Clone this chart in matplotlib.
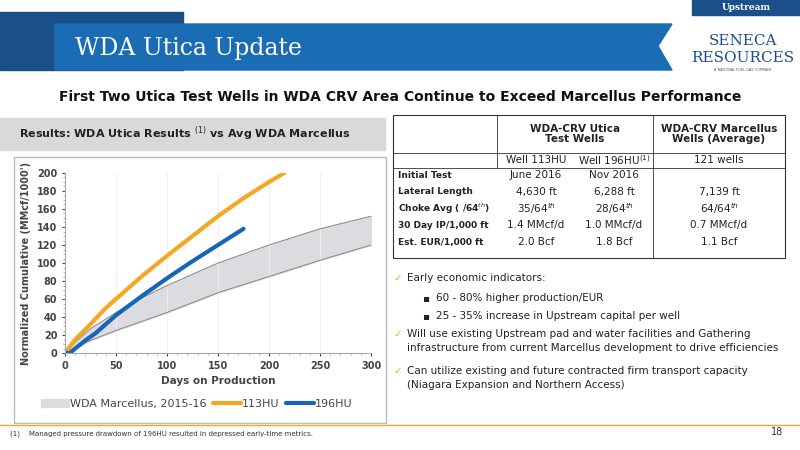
import matplotlib.pyplot as plt
from matplotlib.patches import Rectangle, Polygon
import numpy as np

# chart data
band_days = [0, 10, 25, 50, 75, 100, 150, 200, 250, 300]
band_upper = [0, 12, 27, 45, 61, 75, 100, 120, 138, 152]
band_lower = [0, 6, 14, 25, 35, 45, 67, 85, 103, 120]
hu113_days = [0, 10, 25, 40, 50, 75, 100, 125, 150, 175, 200, 215]
hu113_vals = [0, 15, 32, 50, 60, 85, 108, 130, 152, 172, 190, 200]
hu196_days = [0, 5, 10, 20, 30, 40, 50, 75, 100, 125, 150, 175]
hu196_vals = [0, 0, 5, 14, 22, 32, 42, 63, 83, 102, 120, 138]

# table contents
col_heads = ["WDA-CRV Utica\nTest Wells", "WDA-CRV Marcellus\nWells (Average)"]
sub_heads = ["Well 113HU", "Well 196HU$^{(1)}$", "121 wells"]
row_labels = ["Initial Test", "Lateral Length", "Choke Avg ( /64$^{th}$)",
              "30 Day IP/1,000 ft", "Est. EUR/1,000 ft"]
col_113 = ["June 2016", "4,630 ft", "35/64$^{th}$", "1.4 MMcf/d", "2.0 Bcf"]
col_196 = ["Nov 2016", "6,288 ft", "28/64$^{th}$", "1.0 MMcf/d", "1.8 Bcf"]
col_marc = ["", "7,139 ft", "64/64$^{th}$", "0.7 MMcf/d", "1.1 Bcf"]

W, H = 800, 450
fig = plt.figure(figsize=(8, 4.5), dpi=100)

def fx(x):
    return x / W

def fy(y):
    return 1 - y / H

def ptext(x, y, s, **kw):
    fig.text(fx(x), fy(y), s, **kw)

def prect(x0, y0, x1, y1, **kw):
    fig.patches.append(Rectangle((fx(x0), fy(y1)), fx(x1) - fx(x0), (y1 - y0) / H,
                                 transform=fig.transFigure, zorder=-1, **kw))

def pline(x0, y0, x1, y1, **kw):
    fig.lines.append(plt.Line2D([fx(x0), fx(x1)], [fy(y0), fy(y1)],
                                transform=fig.transFigure, **kw))

# header banner
fig.patches.append(Polygon([(fx(0), fy(12)), (fx(183), fy(12)), (fx(183), fy(70)), (fx(0), fy(70))],
                           closed=True, transform=fig.transFigure, color='#1b4f8a'))
fig.patches.append(Polygon([(fx(55), fy(24)), (fx(672), fy(24)), (fx(658), fy(46)), (fx(672), fy(70)), (fx(55), fy(70))],
                           closed=True, transform=fig.transFigure, color='#1a6db5'))
ptext(75, 48, "WDA Utica Update", color='white', fontsize=17, family='DejaVu Serif', va='center')
prect(692, 0, 800, 15, color='#1b4f8a')
ptext(746, 8, "Upstream", color='white', fontsize=6.5, weight='bold', ha='center', va='center', family='DejaVu Serif')
ptext(743, 41, "SENECA", color='#1b4f8a', fontsize=11, ha='center', va='center', family='DejaVu Serif')
ptext(743, 58, "RESOURCES", color='#1b4f8a', fontsize=11, ha='center', va='center', family='DejaVu Serif')
ptext(743, 70, "A NATIONAL FUEL GAS COMPANY", color='#555555', fontsize=2.5, ha='center', va='center')

ptext(400, 97, "First Two Utica Test Wells in WDA CRV Area Continue to Exceed Marcellus Performance",
      fontsize=10, weight='bold', ha='center', va='center', color='#111111')

# chart title box
prect(0, 118, 385, 150, color='#d9d9d9')
ptext(185, 134, "Results: WDA Utica Results $^{(1)}$ vs Avg WDA Marcellus", fontsize=8, weight='bold',
      ha='center', va='center', color='#222222')
prect(14, 157, 386, 423, facecolor='white', edgecolor='#bbbbbb', lw=1)

ax = fig.add_axes([fx(65), fy(353), (371 - 65) / W, (353 - 173) / H])
ax.set_zorder(5)
ax.patch.set_alpha(0)
ax.fill_between(band_days, band_lower, band_upper, color='#dcdce0', label='WDA Marcellus, 2015-16')
ax.plot(band_days, band_upper, color='#888888', lw=0.7)
ax.plot(band_days, band_lower, color='#888888', lw=0.7)
ax.plot(hu113_days, hu113_vals, color='#f5a623', lw=3, label='113HU', solid_capstyle='round')
ax.plot(hu196_days, hu196_vals, color='#1565b8', lw=3, label='196HU', solid_capstyle='round')
ax.set_xlim(0, 300)
ax.set_ylim(0, 200)
ax.set_xticks(np.arange(0, 301, 50))
ax.set_yticks(np.arange(0, 201, 20))
ax.set_xticks(np.arange(0, 301, 10), minor=True)
ax.set_yticks(np.arange(0, 201, 5), minor=True)
ax.grid(axis='x', which='major', color='#eeeeee', lw=0.6)
ax.tick_params(labelsize=7, colors='#444444', length=2)
ax.tick_params(which='minor', length=1.5, colors='#aaaaaa')
for lab in ax.get_xticklabels() + ax.get_yticklabels():
    lab.set_weight('bold')
for s in ['top', 'right']:
    ax.spines[s].set_visible(False)
for s in ['left', 'bottom']:
    ax.spines[s].set_color('#aaaaaa')
ax.set_xlabel("Days on Production", fontsize=7.5, weight='bold', color='#444444')
ax.set_ylabel("Normalized Cumulative (MMcf/1000')", fontsize=7, weight='bold', color='#444444')
ax.legend(loc='upper center', bbox_to_anchor=(0.43, -0.2), ncol=3, frameon=False, fontsize=8,
          handlelength=2.5, columnspacing=0.6, handletextpad=0.1, labelcolor='#444444')

# table
prect(393, 115, 785, 258, facecolor='none', edgecolor='#333333', lw=0.8)
pline(393, 153, 785, 153, color='#333333', lw=0.6)
pline(393, 168, 785, 168, color='#333333', lw=0.6)
pline(497, 115, 497, 168, color='#333333', lw=0.6)
pline(653, 115, 653, 258, color='#333333', lw=0.6)
ptext(575, 134, col_heads[0], fontsize=7.5, weight='bold', ha='center', va='center', color='#222222', linespacing=1.1)
ptext(719, 134, col_heads[1], fontsize=7.5, weight='bold', ha='center', va='center', color='#222222', linespacing=1.1)
for x, s in zip([536, 614, 719], sub_heads):
    ptext(x, 160, s, fontsize=7.5, ha='center', va='center', color='#222222')
for i, lab in enumerate(row_labels):
    y = 175 + i * 16.8
    ptext(398, y, lab, fontsize=6.5, weight='bold', ha='left', va='center', color='#222222')
    ptext(536, y, col_113[i], fontsize=7.5, ha='center', va='center', color='#222222')
    ptext(614, y, col_196[i], fontsize=7.5, ha='center', va='center', color='#222222')
    ptext(719, y, col_marc[i], fontsize=7.5, ha='center', va='center', color='#222222')

# bullets
bullets = [
    (393, 278, "\u2713", "Early economic indicators:"),
    (422, 298, "\u25aa", "60 - 80% higher production/EUR"),
    (422, 316, "\u25aa", "25 - 35% increase in Upstream capital per well"),
    (393, 334, "\u2713", "Will use existing Upstream pad and water facilities and Gathering"),
    (393, 348, "", "infrastructure from current Marcellus development to drive efficiencies"),
    (393, 371, "\u2713", "Can utilize existing and future contracted firm transport capacity"),
    (393, 385, "", "(Niagara Expansion and Northern Access)"),
]
for x, y, mark, s in bullets:
    if mark:
        ptext(x, y, mark, fontsize=7.5, ha='left', va='center', color='#f5a623' if mark == "\u2713" else '#222222')
    ptext(x + 14, y, s, fontsize=7.5, ha='left', va='center', color='#222222')

pline(0, 425, 800, 425, color='#f5a623', lw=1)
ptext(10, 434, "(1)    Managed pressure drawdown of 196HU resulted in depressed early-time metrics.",
      fontsize=5, va='center', color='#333333')
ptext(783, 432, "18", fontsize=7, ha='right', va='center', color='#333333')

fig.savefig("out.png", dpi=100)
